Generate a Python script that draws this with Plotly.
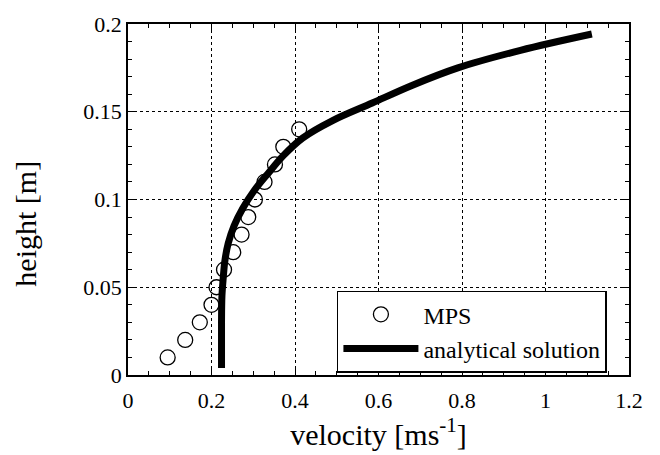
import plotly.graph_objects as go

# MPS data
mps_v = [0.095, 0.137, 0.172, 0.200, 0.212, 0.230, 0.252, 0.272, 0.288, 0.304, 0.327, 0.352, 0.372, 0.410]
mps_h = [0.010, 0.020, 0.030, 0.040, 0.050, 0.060, 0.070, 0.080, 0.090, 0.100, 0.110, 0.120, 0.130, 0.140]

# analytical solution
ana_v = [0.224, 0.224, 0.225, 0.228, 0.232, 0.240, 0.254, 0.275, 0.302, 0.336, 0.372, 0.418, 0.490, 0.585, 0.680, 0.790, 0.940, 1.111]
ana_h = [0.004, 0.030, 0.045, 0.055, 0.065, 0.075, 0.085, 0.095, 0.105, 0.115, 0.125, 0.135, 0.145, 0.155, 0.165, 0.175, 0.185, 0.1943]

xticks = [0, 0.2, 0.4, 0.6, 0.8, 1, 1.2]
xticklabels = ["0", "0.2", "0.4", "0.6", "0.8", "1", "1.2"]
yticks = [0, 0.05, 0.1, 0.15, 0.2]
yticklabels = ["0", "0.05", "0.1", "0.15", "0.2"]

font = "Liberation Serif"

fig = go.Figure()
fig.add_trace(go.Scatter(
    x=mps_v, y=mps_h, mode="markers", name="MPS",
    marker=dict(symbol="circle-open", size=15, color="black", line=dict(width=1.3, color="black")),
))
fig.add_trace(go.Scatter(
    x=ana_v, y=ana_h, mode="lines", name="analytical solution",
    line=dict(color="black", width=7, shape="spline", smoothing=1),
))

axis_common = dict(
    showline=True, linecolor="black", linewidth=1.5, mirror="allticks",
    ticks="inside", ticklen=7, tickwidth=1.2, tickcolor="black",
    showgrid=True, gridcolor="black", gridwidth=1, griddash="dot",
    zeroline=False, tickfont=dict(family=font, size=22, color="black"),
)

fig.update_xaxes(
    range=[0, 1.2], tickvals=xticks, ticktext=xticklabels, ticklabelstandoff=5,
    minor=dict(dtick=0.05, ticks="inside", ticklen=4, tickcolor="black", showgrid=False),
    title=dict(text="velocity [ms<sup>-1</sup>]", font=dict(family=font, size=30, color="black"), standoff=9),
    **axis_common,
)
fig.update_yaxes(
    range=[0, 0.2], tickvals=yticks, ticktext=yticklabels,
    minor=dict(dtick=0.01, ticks="inside", ticklen=4, tickcolor="black", showgrid=False),
    **axis_common,
)

fig.add_annotation(
    text="height [m]", xref="paper", yref="paper", x=-0.205, y=0.432,
    xanchor="center", yanchor="middle", textangle=-90, showarrow=False,
    font=dict(family=font, size=30, color="black"),
)

fig.update_layout(
    width=660, height=455,
    margin=dict(l=128, r=31, t=18, b=78),
    paper_bgcolor="white", plot_bgcolor="white",
    font=dict(family=font, color="black"),
    legend=dict(
        x=0.417, y=0.24, xanchor="left", yanchor="top",
        bgcolor="white", bordercolor="black", borderwidth=1.5,
        font=dict(family=font, size=24, color="black"),
        itemwidth=75, tracegroupgap=0,
    ),
)

fig.write_html("out.html", config={"displayModeBar": False},
               post_script="document.body.style.margin='0';")
